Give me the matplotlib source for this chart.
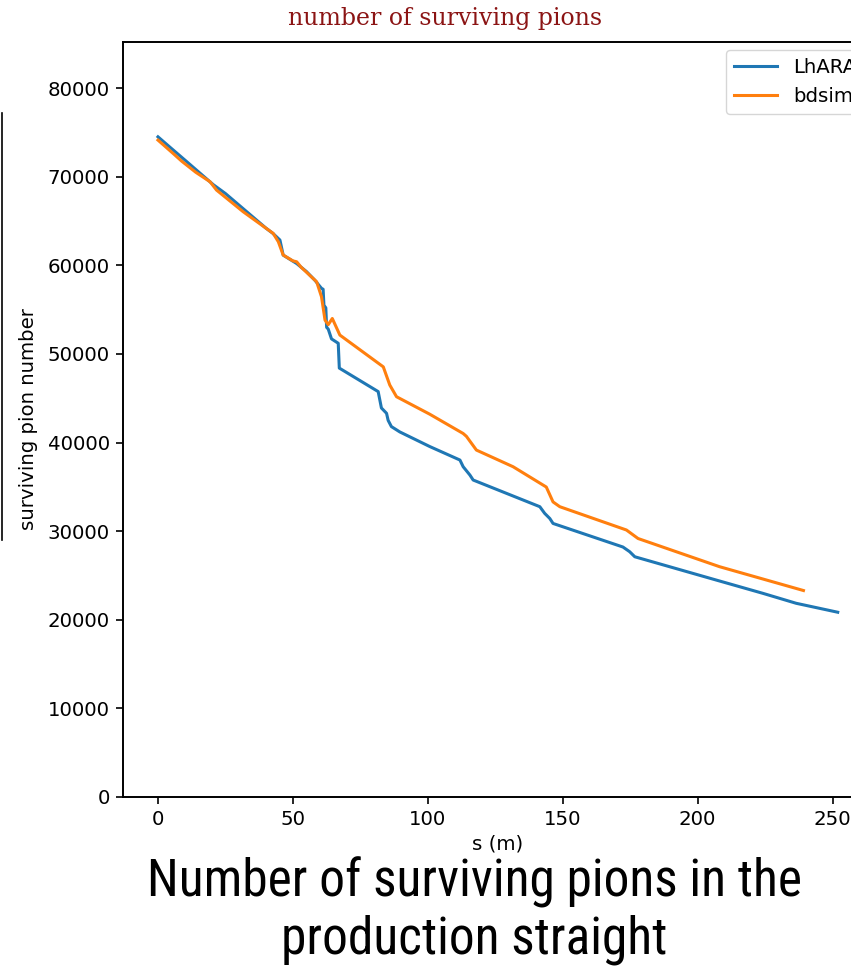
import matplotlib
matplotlib.use("Agg")
import matplotlib.pyplot as plt
from matplotlib import font_manager
from matplotlib.lines import Line2D

# ---- data ----
lhara_s = [0, 5, 10, 15, 20.5, 25, 30, 35, 40, 42.6, 45.2, 46.4, 51.4, 55, 58.1, 60.6,
           61.2, 61.5, 62.2, 62.5, 63.1, 64.3, 66.8, 67.2, 81.6, 82.8, 84.7, 85.3, 86.5,
           89.6, 100.7, 111.9, 113.1, 115.6, 116.8, 141.5, 143.3, 145.2, 146.4, 172.3,
           174.8, 176.7, 206.9, 224.2, 236.5, 251.9]
lhara_n = [74500, 73180, 71870, 70550, 69100, 68100, 66800, 65500, 64200, 63600, 62850,
           61150, 60200, 59300, 58330, 57400, 57300, 55500, 55200, 53000, 52800, 51700,
           51200, 48400, 45750, 43900, 43300, 42500, 41800, 41200, 39550, 38025, 37270,
           36330, 35770, 32760, 32010, 31430, 30870, 28210, 27680, 27110, 24480, 22980,
           21860, 20850]

bdsim_s = [0, 5.7, 8.8, 14, 19.3, 21.7, 31.6, 42.7, 44.6, 46.4, 50, 51.4, 53, 58.8, 60.6,
           61.9, 63.1, 64.6, 67.4, 83.5, 85.9, 88.4, 100.7, 113.1, 114.3, 118, 131.6,
           143.9, 146.4, 148.9, 173.6, 177.9, 208.1, 239.2]
bdsim_n = [74130, 72600, 71750, 70500, 69430, 68490, 66040, 63600, 62660, 61160, 60500,
           60400, 59800, 58140, 56450, 53820, 53300, 54000, 52130, 48540, 46490, 45170,
           43200, 41020, 40700, 39150, 37270, 34980, 33300, 32760, 30130, 29170, 25990,
           23300]

series_labels = ["LhARA", "bdsim"]
x_ticks = [0, 50, 100, 150, 200, 250]
y_ticks = [0, 10000, 20000, 30000, 40000, 50000, 60000, 70000, 80000]

title_text = "number of surviving pions"
caption_lines = ["Number of surviving pions in the", "production straight"]

# ---- fonts ----
avail = {f.name for f in font_manager.fontManager.ttflist}
narrow = "DejaVu Sans"
for cand in ["Roboto Condensed", "Liberation Sans Narrow", "Open Sans Condensed", "Noto Sans"]:
    if cand in avail:
        narrow = cand
        break

W, H = 851, 967
fig = plt.figure(figsize=(W / 100, H / 100), dpi=100)
ax = fig.add_axes([123 / W, 1 - 797 / H, (872 - 123) / W, (797 - 42) / H])

ax.plot(lhara_s, lhara_n, color="#1f77b4", lw=2.2, label=series_labels[0])
ax.plot(bdsim_s, bdsim_n, color="#ff7f0e", lw=2.2, label=series_labels[1])

ax.set_xlim(-12.96, 264.6)
ax.set_ylim(0, 85200)
ax.set_xticks(x_ticks)
ax.set_yticks(y_ticks)
ax.tick_params(labelsize=14.2, length=5, width=1.2, pad=4.5)
for sp in ax.spines.values():
    sp.set_linewidth(1.4)
ax.set_xlabel("s (m)", fontsize=14.2, labelpad=4)
ax.set_ylabel("surviving pion number", fontsize=14.2, labelpad=7)
ax.legend(loc="upper right", fontsize=14.2, handlelength=2.2, borderaxespad=0.4)

fig.text(445 / W, 1 - 18 / H, title_text, ha="center", va="center",
         family="DejaVu Serif", fontsize=17, color="#8b1414")

fig.text(474 / W, 1 - 882 / H, caption_lines[0], ha="center", va="center",
         family=narrow, fontsize=37)
fig.text(474 / W, 1 - 940 / H, caption_lines[1], ha="center", va="center",
         family=narrow, fontsize=37)

fig.add_artist(Line2D([1.5 / W, 1.5 / W], [1 - 113 / H, 1 - 540 / H],
                      transform=fig.transFigure, color="black", lw=1.2))

fig.savefig("out.png", dpi=100)
